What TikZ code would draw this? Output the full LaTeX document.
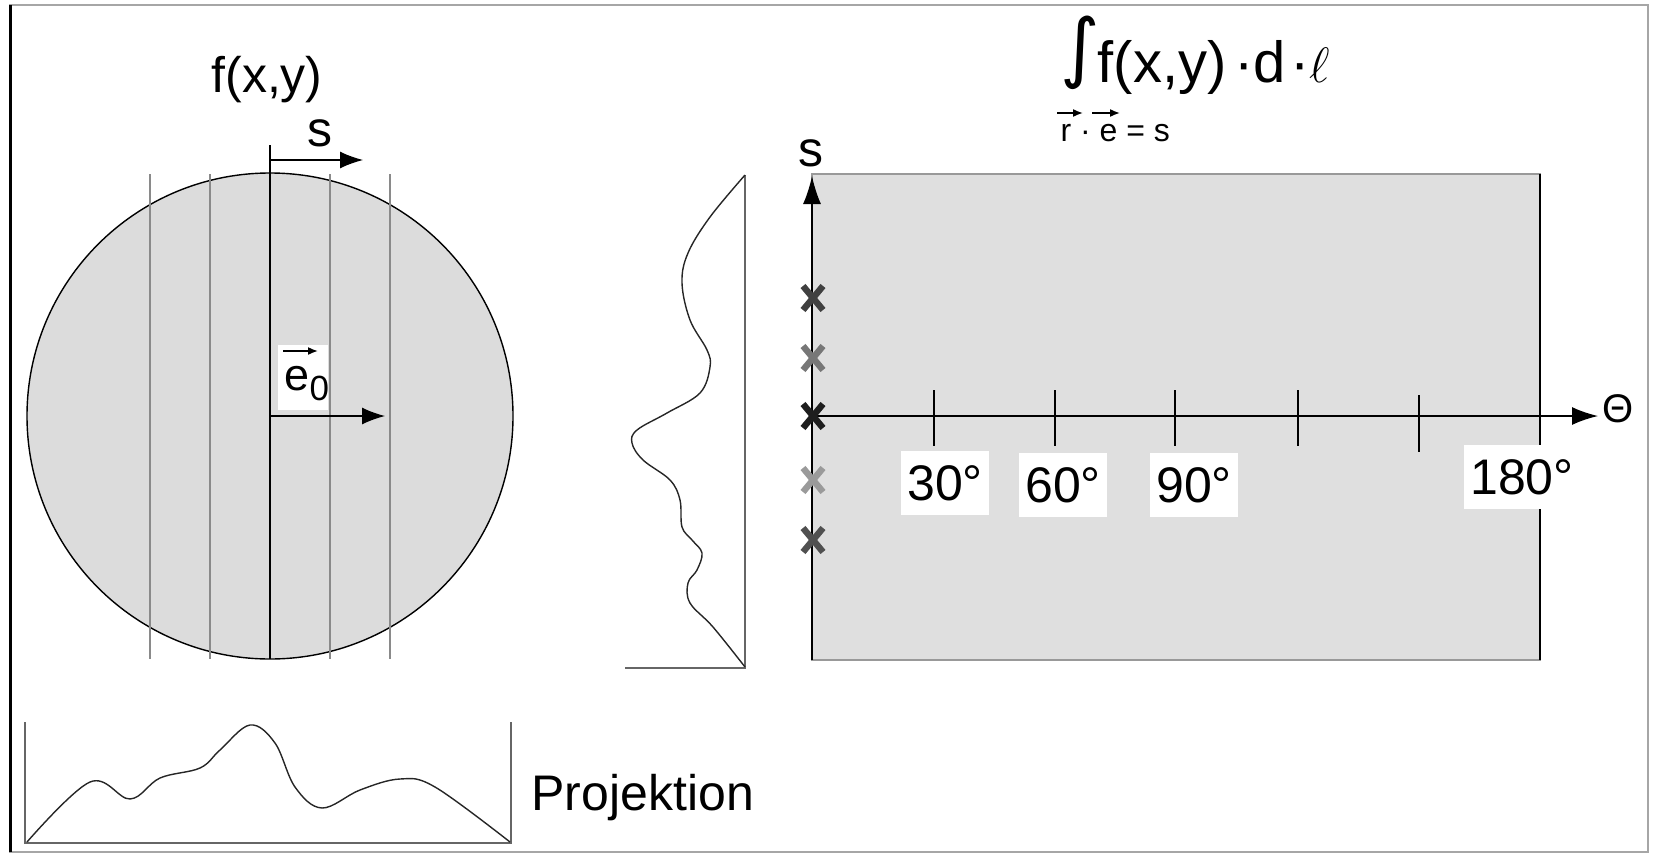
\documentclass[tikz,border=0pt]{standalone}
\usepackage{fontspec}
\setmainfont{Liberation Sans}
\newfontfamily\djv{DejaVu Sans}
\usetikzlibrary{arrows.meta}
\definecolor{circg}{HTML}{DCDCDC}
\definecolor{rectg}{HTML}{DFDFDF}
\definecolor{lineg}{HTML}{8A8A8A}
\definecolor{xa}{HTML}{404040}
\definecolor{xb}{HTML}{777777}
\definecolor{xc}{HTML}{1E1E1E}
\definecolor{xd}{HTML}{9A9A9A}
\definecolor{xe}{HTML}{505050}
\begin{document}
\begin{tikzpicture}[x=0.5pt,y=-0.5pt,line width=0.6pt,
  big/.style={inner sep=0pt,font=\fontsize{25}{30}\selectfont},
  degbox/.style={fill=white,inner xsep=3pt,inner ysep=0pt,minimum height=32pt,font=\fontsize{25}{30}\selectfont},
  tipS/.style={-{Latex[length=11.5pt,width=8.5pt]}},
  tipA/.style={-{Latex[length=13pt,width=9pt]}},
  tipV/.style={-{Latex[length=5pt,width=4pt]}},
  xm/.style={line width=3.2pt,draw=#1},
  proj/.style={line width=0.7pt,black!85}]
\useasboundingbox (0,0) rectangle (1653,856);
% frame
\draw[gray!70,line width=1pt] (10,5) rectangle (1648,852);
\draw[line width=1.5pt] (10,5) -- (10,852);
% ---------- left: object ----------
\coordinate (c) at (270,416);
\draw[fill=circg,line width=0.7pt] (c) circle [radius=243];
\foreach \k in {-120,-60,60,120}
  \draw[lineg,line width=0.6pt] (270+\k,174) -- (270+\k,659);
\draw[line width=0.7pt] (270,145) -- (270,659);
\node[big] (fxy) at (267,93) [anchor=base] {f(x,y)};
\coordinate (sa) at (270,160);
\coordinate (sb) at (363,160);
\draw[tipS] (sa) -- (sb);
\node[big] (slab) at (320,133) {s};
\coordinate (ea) at (270,416);
\coordinate (eb) at (385,416);
\draw[tipS] (ea) -- (eb);
\fill[white] (278,345) rectangle (328,410);
\node[inner sep=0pt,anchor=base west,font=\fontsize{22.5}{25}\selectfont] (e0) at (284,390)
  {e\raisebox{-5pt}{\fontsize{17.5}{18}\selectfont 0}};
\coordinate (va) at (283,351);
\coordinate (vb) at (318,351);
\draw[tipV,line width=0.8pt] (va) -- (vb);
% bottom projection
\draw[gray!80!black,line width=1pt] (25,722) -- (25,843) -- (511,843) -- (511,722);
\draw[proj] plot[smooth,tension=0.6] coordinates {(27,842) (90,782) (130,799) (160,778) (200,768) (220,750) (250,725) (275,743) (295,787) (322,808) (360,790) (400,779) (435,787) (510,842)};
\node[big,anchor=base west] (projlab) at (531,810) {Projektion};
% right-hand projection
\draw[gray!80!black,line width=1pt] (625,668) -- (745,668) -- (745,175);
\draw[proj] plot[smooth,tension=0.6] coordinates {(745,175) (710,217) (688,253) (682,283) (690,320) (707,350) (710,367) (700,393) (667,413) (637,430) (632,443) (643,460) (670,480) (680,500) (682,527) (692,540) (702,553) (697,570) (688,583) (690,603) (713,627) (745,667)};
% ---------- right: sinogram ----------
\draw[fill=rectg,draw=gray!80] (812,174) rectangle (1540,660);
\draw[line width=1pt] (1540,174) -- (1540,660);
\coordinate (s0) at (812,660);
\coordinate (s1) at (812,176);
\draw[line width=0.8pt,-{Latex[length=14pt,width=9pt]}] (s0) -- (s1);
\node[big] (saxis) at (811,153) {s};
\coordinate (t0) at (812,416);
\coordinate (t1) at (1598,416);
\draw[line width=0.8pt,tipA] (t0) -- (t1);
\node[inner sep=0pt,font=\fontsize{20}{22}\selectfont] (theta) at (1618,409) {Θ};
\foreach \x in {934,1055,1175,1298}
  \draw[line width=0.6pt] (\x,390) -- (\x,446);
\draw[line width=0.7pt] (1419,395) -- (1419,452);
\node[degbox] (d30) at (945,483) {30°};
\node[degbox] (d60) at (1063,485) {60°};
\node[degbox] (d90) at (1194,485) {90°};
\node[degbox] (d180) at (1522,477) {180°};
% X marks on the s axis
\foreach \yy/\cc in {298/xa,358/xb,416/xc,480/xd,540/xe}
  \draw[xm=\cc] (803,\yy-12) -- (823,\yy+12) (823,\yy-12) -- (803,\yy+12);
% formula
\node[inner sep=0pt,font=\djv\fontsize{38}{40}\selectfont] (intg) at (1080,53) {∫};
\node[inner sep=0pt,anchor=base west,font=\fontsize{29}{32}\selectfont] (form) at (1097,83) {f(x,y)\hspace{4pt}·d\hspace{2pt}·$\ell$};
\node[inner sep=0pt,anchor=base west,font=\fontsize{16}{18}\selectfont] (cond) at (1060,141) {r · e = s};
\coordinate (ra) at (1057,113);
\coordinate (rb) at (1083,113);
\coordinate (ec) at (1092,113);
\coordinate (ed) at (1120,113);
\draw[tipV,line width=0.8pt] (ra) -- (rb);
\draw[tipV,line width=0.8pt] (ec) -- (ed);
\end{tikzpicture}
\end{document}
